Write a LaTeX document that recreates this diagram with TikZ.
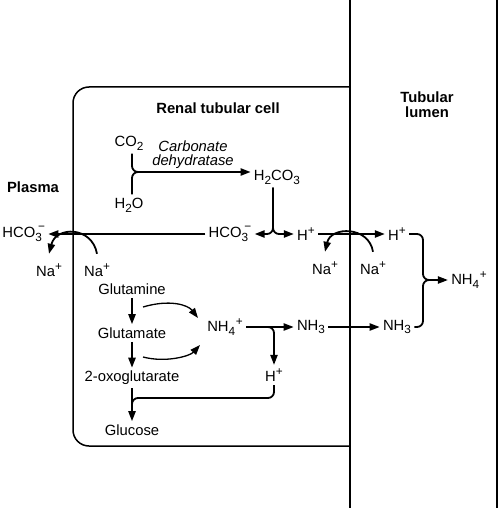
\documentclass[tikz,border=0pt]{standalone}
\usepackage{fontspec}
\setmainfont{Liberation Sans}
\usetikzlibrary{arrows.meta}
\newcommand{\chsub}[1]{\raisebox{-0.5ex}{\fontsize{5.9pt}{6pt}\selectfont #1}}
\newcommand{\chsup}[1]{\raisebox{0.85ex}{\fontsize{5.9pt}{6pt}\selectfont #1}}
\newcommand{\chminus}{\kern-1.9pt\chsup{\textminus}}
\begin{document}
\begin{tikzpicture}[x=0.5pt,y=-0.5pt,
  lbl/.style={inner sep=1.5pt, font=\fontsize{7.4pt}{8.8pt}\selectfont},
  ttl/.style={inner sep=0pt, font=\fontsize{7.4pt}{7.5pt}\selectfont\bfseries, align=center},
  arr/.style={line width=0.9pt, -{Triangle[length=5pt,width=3.6pt]}},
  thinarr/.style={line width=0.65pt, -{Triangle[length=5pt,width=3.6pt]}},
  ln/.style={line width=0.9pt},
  wall/.style={line width=0.75pt},
  rc/.style={rounded corners=3pt}]
\useasboundingbox (0,0) rectangle (500,508);

% walls
\draw[wall] (350,0) -- (350,508);
\draw[wall] (497,0) -- (497,508);
\draw[wall, rounded corners=8pt] (350,87) -- (73,87) -- (73,446) -- (350,446);

% titles
\node[ttl] (renal) at (218,108) {Renal tubular cell};
\node[ttl] (lumen) at (427,105) {Tubular\\lumen};
\node[ttl] (plasma) at (33,187) {Plasma};

% species
\node[lbl] (co2) at (129,143) {CO\chsub{2}};
\node[lbl] (h2o) at (129,205) {H\chsub{2}O};
\node[lbl, font=\fontsize{7.4pt}{7pt}\selectfont\itshape, align=center] (enz) at (193,155) {Carbonate\\dehydratase};
\node[lbl] (h2co3) at (277,177) {H\chsub{2}CO\chsub{3}};
\node[lbl] (hco3c) at (230,234) {HCO\chsub{3}\chminus};
\node[lbl] (hplc) at (306,234) {H\chsup{+}};
\node[lbl, anchor=west] (hco3p) at (-1,234) {HCO\chsub{3}\chminus};
\node[lbl] (nal) at (49,270) {Na\chsup{+}};
\node[lbl] (nar) at (97,270) {Na\chsup{+}};
\node[lbl] (na2l) at (325,268) {Na\chsup{+}};
\node[lbl] (na2r) at (373,268) {Na\chsup{+}};
\node[lbl] (hplu) at (397,234) {H\chsup{+}};
\node[lbl] (nh4l) at (469,280) {NH\chsub{4}\kern0.3pt\chsup{+}};
\node[lbl] (nh3l) at (397,327) {NH\chsub{3}};
\node[lbl] (nh3c) at (311,327) {NH\chsub{3}};
\node[lbl] (nh4c) at (225,327) {NH\chsub{4}\kern0.3pt\chsup{+}};
\node[lbl] (h2) at (274,375) {H\chsup{+}};
\node[lbl] (glutamine) at (132,289) {Glutamine};
\node[lbl] (glutamate) at (132,333) {Glutamate};
\node[lbl] (oxo) at (132,378) {2-oxoglutarate};
\node[lbl] (glucose) at (132,430) {Glucose};

% carbonate dehydratase reaction
\coordinate (j1) at (132,172);
\coordinate (j1e) at (150,172);
\draw[arr, rc] (co2.south -| j1) |- (h2co3.west |- j1);
\draw[ln, rc] (h2o.north -| j1) |- (j1e);

% H2CO3 split
\coordinate (j2) at (273,234);
\draw[arr, rc] (h2co3.south -| j2) |- (hco3c.east);
\draw[arr, rc] (h2co3.south -| j2) |- (hplc.west);
\draw[arr] (hco3c.west) -- (hco3p.east);
\draw[arr] (hplc.east) -- (hplu.west);

% Na exchanges
\draw[arr] ([yshift=3pt]nar.north) .. controls (92,226) and (56,226) .. ([yshift=3pt]nal.north);
\draw[arr] ([yshift=3pt]na2r.north) .. controls (369,226) and (331,226) .. ([yshift=3pt]na2l.north);

% lumen bracket
\coordinate (br) at (423,280);
\draw[arr, rc] (hplu.east) -| (br) -- (nh4l.west);
\draw[ln, rc] (nh3l.east) -| (br) -- ++(10,0);

% ammonia
\draw[arr] (nh4c.east) -- (nh3c.west);
\draw[arr] (nh3c.east) -- (nh3l.west);
\draw[arr, rc] (nh4c.east) -| (h2.north);

% glutamine chain
\draw[arr] (glutamine.south) -- (glutamate.north);
\draw[arr] (glutamate.south) -- (oxo.north);
\draw[arr] (oxo.south) -- (glucose.north);
\coordinate (j3) at (132,398);
\draw[ln, rc] (h2.south) |- (j3) -- ++(0,14);

\coordinate (c1s) at (143,307);
\coordinate (c1e) at (198,318);
\coordinate (c2s) at (143,357);
\coordinate (c2e) at (200,345);
\draw[thinarr] (c1s) .. controls (170,299) and (188,305) .. (c1e);
\draw[thinarr] (c2s) .. controls (166,363) and (190,356) .. (c2e);
\end{tikzpicture}
\end{document}
